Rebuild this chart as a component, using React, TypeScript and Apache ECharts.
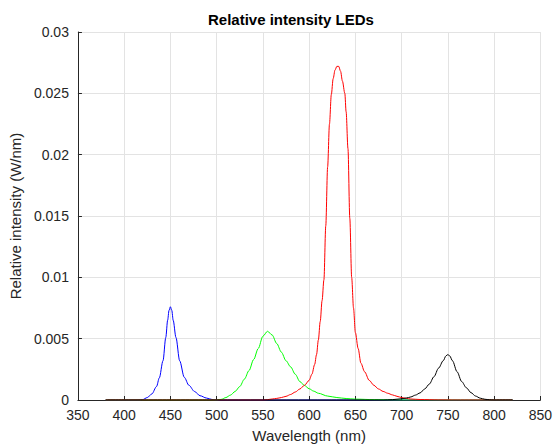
import React, { useEffect, useRef } from "react";
import * as echarts from "echarts";

const titleText = "Relative intensity LEDs";
const xName = "Wavelength (nm)";
const yName = "Relative intensity (W/nm)";

const blueNm = [380, 400, 415, 420, 425, 430, 435, 438, 442, 445, 447, 448.5, 450, 451.5, 453, 456, 460, 465, 470, 476, 482, 489, 495, 500, 600, 700, 820];
const blueVal = [0, 0, 0, 0.00003, 0.0002, 0.0005, 0.0011, 0.0018, 0.0032, 0.0051, 0.0065, 0.0073, 0.0076, 0.0073, 0.0065, 0.0051, 0.0032, 0.00185, 0.0012, 0.0007, 0.00035, 0.00016, 0.00004, 0, 0, 0, 0];

const greenNm = [380, 450, 495, 500, 505, 510, 515, 520, 525, 530, 535, 540, 545, 550, 555, 560, 565, 570, 575, 580, 585, 590, 595, 600, 605, 610, 620, 630, 640, 650, 670, 690, 700, 760, 820];
const greenVal = [0, 0, 0, 0, 0.00005, 0.0002, 0.0004, 0.0007, 0.0011, 0.0017, 0.0024, 0.0033, 0.0042, 0.0052, 0.0056, 0.0053, 0.0046, 0.0039, 0.0032, 0.0027, 0.0021, 0.0015, 0.00118, 0.00092, 0.00072, 0.00055, 0.00032, 0.0002, 0.00012, 0.00007, 0.00003, 0.00001, 0, 0, 0];

const redNm = [380, 450, 550, 555, 560, 565, 570, 575, 580, 585, 590, 595, 600, 603, 606, 608, 610, 612, 614, 616, 618, 620, 622, 624, 626, 628, 630, 632, 634, 636, 638.6, 640, 642, 644, 646, 648, 650, 653, 656, 660, 665, 670, 675, 680, 685, 690, 695, 700, 705, 710, 720, 740, 760, 820];
const redVal = [0, 0, 0, 0.00003, 0.00008, 0.00013, 0.0002, 0.0003, 0.00045, 0.00065, 0.0009, 0.0012, 0.0016, 0.0021, 0.0029, 0.0037, 0.0049, 0.0064, 0.0081, 0.0098, 0.0142, 0.019, 0.0225, 0.0249, 0.0262, 0.0269, 0.0272, 0.0272, 0.0268, 0.026, 0.025, 0.0235, 0.0205, 0.0148, 0.01, 0.0075, 0.0055, 0.0042, 0.003, 0.0023, 0.0016, 0.0012, 0.0009, 0.0007, 0.00055, 0.00042, 0.0003, 0.0002, 0.00013, 0.00008, 0.00004, 0.00001, 0, 0];

const blackNm = [380, 500, 600, 680, 690, 700, 705, 710, 715, 720, 725, 730, 735, 740, 745, 748, 750, 752, 755, 760, 765, 770, 775, 780, 785, 790, 795, 800, 820];
const blackVal = [0, 0, 0, 0, 0.00003, 0.0001, 0.00016, 0.00025, 0.0004, 0.00058, 0.0009, 0.0013, 0.0019, 0.0026, 0.0032, 0.0036, 0.0037, 0.0036, 0.0032, 0.0023, 0.0015, 0.001, 0.0006, 0.00032, 0.00015, 0.00006, 0.00002, 0, 0];

const seriesDefs = [
  { name: "Blue", nm: blueNm, val: blueVal, color: "#0000ff" },
  { name: "Green", nm: greenNm, val: greenVal, color: "#00ff00" },
  { name: "Red", nm: redNm, val: redVal, color: "#ff0000" },
  { name: "Black", nm: blackNm, val: blackVal, color: "#000000" },
];

const FONT = "'Liberation Sans', Arial, Helvetica, sans-serif";
const TXT = "#262626";

export default function App() {
  const ref = useRef<HTMLDivElement>(null);
  useEffect(() => {
    if (!ref.current) return;
    const chart = echarts.init(ref.current, undefined, { renderer: "svg" });
    chart.setOption({
      animation: false,
      backgroundColor: "#ffffff",
      title: {
        text: titleText,
        left: 208,
        top: 12,
        padding: 0,
        textStyle: { fontFamily: FONT, fontSize: 15, fontWeight: "bold", color: "#000000" },
      },
      grid: { left: 73, right: 12, top: 32, bottom: 47, containLabel: false },
      xAxis: {
        type: "value",
        min: 350,
        max: 850,
        interval: 50,
        name: xName,
        nameLocation: "middle",
        nameGap: 28,
        nameTextStyle: { fontFamily: FONT, fontSize: 15, color: TXT },
        axisLine: { show: true, onZero: false, lineStyle: { color: TXT, width: 1 } },
        axisTick: { show: true, inside: true, length: 4, lineStyle: { color: TXT } },
        axisLabel: { fontFamily: FONT, fontSize: 14, color: TXT, margin: 8 },
        splitLine: { show: true, lineStyle: { color: "#e3e3e3", width: 1 } },
      },
      yAxis: {
        type: "value",
        min: 0,
        max: 0.03,
        interval: 0.005,
        name: yName,
        nameLocation: "middle",
        nameGap: 49,
        nameTextStyle: { fontFamily: FONT, fontSize: 15, color: TXT },
        axisLine: { show: true, onZero: false, lineStyle: { color: TXT, width: 1 } },
        axisTick: { show: true, inside: true, length: 4, lineStyle: { color: TXT } },
        axisLabel: { fontFamily: FONT, fontSize: 14, color: TXT, margin: 9 },
        splitLine: { show: true, lineStyle: { color: "#e3e3e3", width: 1 } },
      },
      series: seriesDefs.map((s) => ({
        type: "line",
        name: s.name,
        showSymbol: false,
        smooth: 0.3,
        smoothMonotone: "x",
        lineStyle: { color: s.color, width: 1 },
        itemStyle: { color: s.color },
        data: s.nm.map((x, i) => [x, s.val[i]]),
      })),
    });
    return () => chart.dispose();
  }, []);
  return (
    <div
      ref={ref}
      style={{ position: "fixed", left: 0, top: 0, width: 555, height: 448, background: "#fff" }}
    />
  );
}
